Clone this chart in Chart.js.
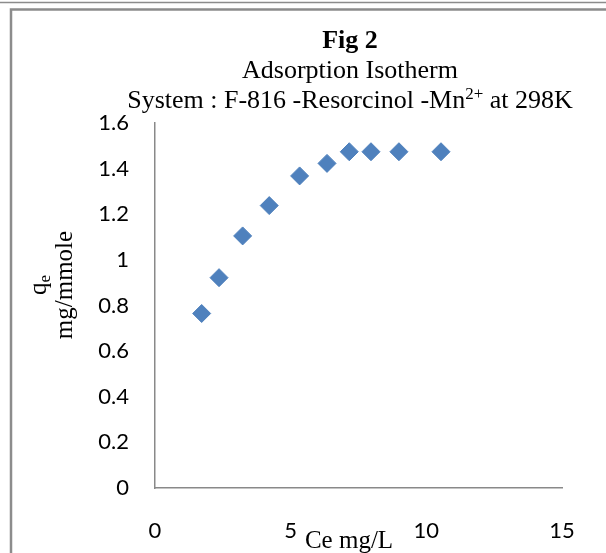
<!DOCTYPE html>
<html>
<head>
<meta charset="utf-8">
<script src="https://cdn.jsdelivr.net/npm/chart.js@4.4.1/dist/chart.umd.min.js"></script>
<style>
  html, body { margin: 0; padding: 0; background: #fff; }
  #wrap { width: 606px; height: 553px; position: relative; }
</style>
</head>
<body>
<div id="wrap"><canvas id="chart_isotherm"></canvas></div>
<script>
// Ce (mg/L) and qe (mg/mmole)
var ceValues = [1.72, 2.36, 3.23, 4.21, 5.33, 6.34, 7.16, 7.96, 8.99, 10.54];
var qeValues = [0.765, 0.922, 1.105, 1.238, 1.368, 1.423, 1.474, 1.474, 1.474, 1.474];

var xTicks = [0, 5, 10, 15];
var yTicks = [0, 0.2, 0.4, 0.6, 0.8, 1, 1.2, 1.4, 1.6];

var titleLines = ['Fig 2', 'Adsorption Isotherm'];
var systemLine = { pre: 'System : F-816 -Resorcinol -Mn', sup: '2+', post: ' at 298K' };
var xTitle = 'Ce mg/L';
var yTitle = { main: 'q', sub: 'e', second: 'mg/mmole' };

var serif = '"Liberation Serif", "Times New Roman", serif';
var axisGrey = '#898989';

var chart_isotherm = new Chart(document.getElementById('chart_isotherm'), {
    type: 'scatter',
    data: {
        datasets: [{
            label: 'qe',
            data: ceValues.map(function (c, i) { return { x: c, y: qeValues[i] }; }),
            pointStyle: 'rectRot',
            pointRadius: 9,
            pointHoverRadius: 9,
            backgroundColor: '#4F81BD',
            borderColor: '#4F81BD',
            borderWidth: 1
        }]
    },
    options: {
        animation: false,
        responsive: true,
        maintainAspectRatio: false,
        layout: { padding: { top: 123, right: 44, left: 0, bottom: 0 } },
        plugins: {
            legend: { display: false },
            title: { display: false },
            tooltip: { enabled: false }
        },
        scales: {
            x: {
                type: 'linear',
                min: 0,
                max: 15,
                afterBuildTicks: function (s) { s.ticks = xTicks.map(function (v) { return { value: v }; }); },
                afterFit: function (s) { s.height = 65; },
                grid: { display: false, drawTicks: false },
                border: { display: true, color: axisGrey, width: 1.5 },
                ticks: { padding: 30, color: '#000', font: { family: 'Lato', size: 22 } }
            },
            y: {
                type: 'linear',
                min: 0,
                max: 1.6,
                afterBuildTicks: function (s) { s.ticks = yTicks.map(function (v) { return { value: v }; }); },
                afterFit: function (s) { s.width = 155; },
                grid: { display: false, drawTicks: false },
                border: { display: true, color: axisGrey, width: 1.5 },
                ticks: {
                    padding: 26,
                    color: '#000',
                    font: { family: 'Lato', size: 22 },
                    callback: function (v) { return String(Math.round(v * 10) / 10); }
                }
            }
        }
    },
    plugins: [{
        id: 'frameAndTexts',
        beforeDraw: function (chart) {
            var ctx = chart.ctx;
            ctx.save();
            ctx.fillStyle = 'white';
            ctx.fillRect(0, 0, chart.width, chart.height);
            ctx.strokeStyle = '#8c8c8c';
            ctx.lineWidth = 1.5;
            ctx.beginPath();
            ctx.moveTo(0, 2.5); ctx.lineTo(chart.width, 2.5);
            ctx.stroke();
            ctx.lineWidth = 2.5;
            ctx.beginPath();
            ctx.moveTo(chart.width, 9.5); ctx.lineTo(11, 9.5); ctx.lineTo(11, chart.height);
            ctx.stroke();
            ctx.restore();
        },
        afterDraw: function (chart) {
            var ctx = chart.ctx;
            var cx = 350;
            ctx.save();
            ctx.fillStyle = '#000';
            ctx.textBaseline = 'alphabetic';
            ctx.textAlign = 'center';
            ctx.font = 'bold 26px ' + serif;
            ctx.fillText(titleLines[0], cx, 48);
            ctx.font = '26px ' + serif;
            ctx.fillText(titleLines[1], cx, 78);

            // system line with superscript
            ctx.textAlign = 'left';
            ctx.font = '26px ' + serif;
            var w1 = ctx.measureText(systemLine.pre).width;
            var w3 = ctx.measureText(systemLine.post).width;
            ctx.font = '17px ' + serif;
            var w2 = ctx.measureText(systemLine.sup).width;
            var x0 = cx - (w1 + w2 + w3) / 2;
            ctx.font = '26px ' + serif;
            ctx.fillText(systemLine.pre, x0, 108);
            ctx.font = '17px ' + serif;
            ctx.fillText(systemLine.sup, x0 + w1, 99);
            ctx.font = '26px ' + serif;
            ctx.fillText(systemLine.post, x0 + w1 + w2, 108);

            // x axis title
            ctx.textAlign = 'center';
            ctx.font = '25px ' + serif;
            ctx.fillText(xTitle, 349, 548);

            // y axis title, rotated
            ctx.translate(0, 285);
            ctx.rotate(-Math.PI / 2);
            ctx.font = '25px ' + serif;
            var qw = ctx.measureText(yTitle.main).width;
            ctx.font = '17px ' + serif;
            var ew = ctx.measureText(yTitle.sub).width;
            var qx = -(qw + ew) / 2;
            ctx.textAlign = 'left';
            ctx.font = '25px ' + serif;
            ctx.fillText(yTitle.main, qx, 46);
            ctx.font = '17px ' + serif;
            ctx.fillText(yTitle.sub, qx + qw, 50);
            ctx.textAlign = 'center';
            ctx.font = '25px ' + serif;
            ctx.fillText(yTitle.second, 0, 72);
            ctx.restore();
        }
    }]
});
</script>
</body>
</html>
